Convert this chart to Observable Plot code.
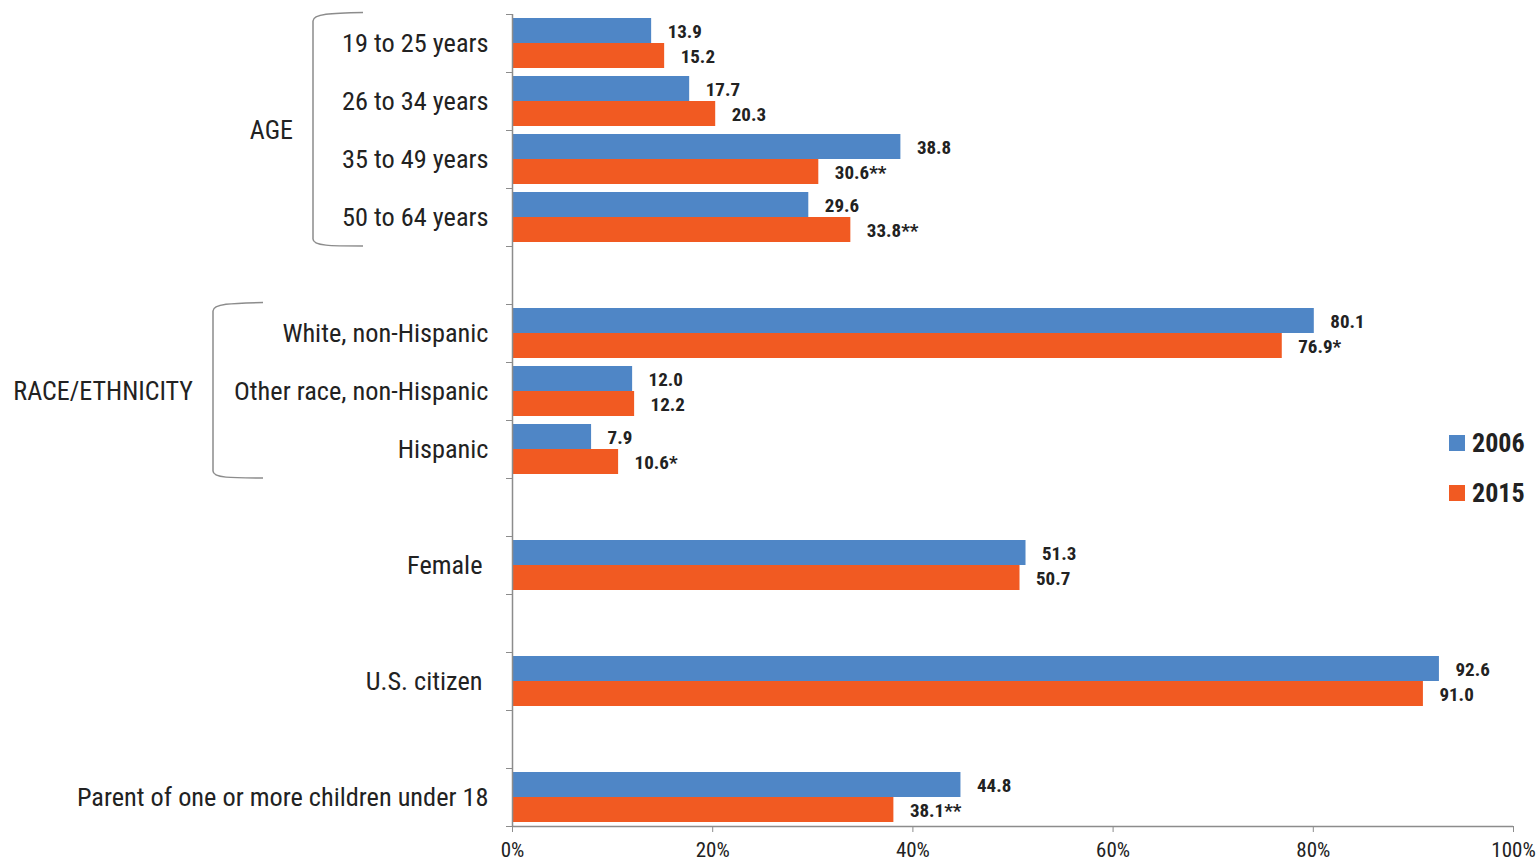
<!DOCTYPE html>
<html>
<head>
<meta charset="utf-8">
<script src="https://cdn.jsdelivr.net/npm/d3@7"></script>
<script src="https://cdn.jsdelivr.net/npm/@observablehq/plot@0.6"></script>
<style>
  body { margin: 0; background: #fff; }
  #chart { position: relative; width: 1536px; height: 862px; }
  #chart svg text { font-stretch: condensed; }
  .legend-item { position: absolute; left: 1449px; display: flex; align-items: center;
    font-family: "Roboto Condensed", Roboto, sans-serif; font-stretch: condensed;
    font-weight: bold; font-size: 26px; color: #222; height: 30px; line-height: 30px; }
  .legend-item .sw { width: 16px; height: 16px; margin-right: 7px; }
</style>
</head>
<body>
<div id="chart"></div>
<script>
// ---------- data ----------
const categories = [
  "19 to 25 years", "26 to 34 years", "35 to 49 years", "50 to 64 years", null,
  "White, non-Hispanic", "Other race, non-Hispanic", "Hispanic", null,
  "Female\u00a0", null,
  "U.S. citizen\u00a0", null,
  "Parent of one or more children under 18"
];
const values2006 = [13.9, 17.7, 38.8, 29.6, null, 80.1, 12.0, 7.9, null, 51.3, null, 92.6, null, 44.8];
const values2015 = [15.2, 20.3, 30.6, 33.8, null, 76.9, 12.2, 10.6, null, 50.7, null, 91.0, null, 38.1];
const notes2015  = ["", "", "**", "**", null, "*", "", "*", null, "", null, "", null, "**"];
const years = ["2006", "2015"];
const groupNames = ["AGE", "RACE/ETHNICITY"];
const groupFirst = [0, 5];
const groupLast  = [3, 7];
const xTicks = [0, 20, 40, 60, 80, 100];

// ---------- styling / layout ----------
const BLUE = "#4f86c6", ORANGE = "#f15a22", GRAY = "#8c8c8c", TEXT = "#222";
const FONT = '"Roboto Condensed", Roboto, sans-serif';
const bracketLeftOffset = [199, 299];   // px left of the 0% axis
const bracketWidth = 50;

const rows = categories
  .map((c, i) => ({c, i, v06: values2006[i], v15: values2015[i], note: notes2015[i]}))
  .filter(d => d.c !== null);

function brackets(index, scales, values, dims) {
  const g = d3.create("svg:g");
  const x0 = scales.x(0);
  groupNames.forEach((name, k) => {
    const yt = scales.y(groupFirst[k]), yb = scales.y(groupLast[k] + 1);
    const xl = x0 - bracketLeftOffset[k], xr = xl + bracketWidth;
    g.append("path")
      .attr("d", `M${xr},${yt - 1.5} C${xl + 18},${yt - 1} ${xl},${yt} ${xl},${yt + 7}
                  L${xl},${yb - 7} C${xl},${yb} ${xl + 18},${yb} ${xr},${yb}`)
      .attr("fill", "none").attr("stroke", GRAY).attr("stroke-width", 1.5);
    g.append("text")
      .attr("x", xl - 20).attr("y", (yt + yb) / 2).attr("dy", "0.35em")
      .attr("text-anchor", "end").attr("font-size", 26).attr("fill", TEXT)
      .attr("font-family", FONT)
      .text(name);
  });
  return g.node();
}

const plot = Plot.plot({
  width: 1536, height: 862,
  marginLeft: 512, marginRight: 23, marginTop: 14, marginBottom: 36,
  style: {fontFamily: FONT, fontSize: "21px", background: "transparent", overflow: "visible"},
  x: {domain: [0, 100]},
  y: {type: "linear", domain: [0, categories.length], reverse: true},
  marks: [
    Plot.rect(rows, {x1: 0, x2: "v06", y1: d => d.i, y2: d => d.i + 0.5, insetTop: 4, fill: BLUE}),
    Plot.rect(rows, {x1: 0, x2: "v15", y1: d => d.i + 0.5, y2: d => d.i + 1, insetBottom: 4, fill: ORANGE}),
    Plot.ruleX([0], {stroke: GRAY, strokeWidth: 1.5}),
    Plot.ruleY([categories.length], {stroke: GRAY, strokeWidth: 1.5}),
    Plot.axisX({ticks: xTicks, tickFormat: d => d + "%", tickSize: 6, tickPadding: 10,
      stroke: GRAY, fill: TEXT, fontSize: 21, label: null}),
    Plot.axisY({ticks: d3.range(categories.length + 1), tickFormat: () => "", tickSize: 6,
      stroke: GRAY, label: null}),
    Plot.text(rows, {x: "v06", y: d => d.i + 0.25, dy: 3, dx: 16, text: d => d.v06.toFixed(1),
      textAnchor: "start", fontSize: 19, fontWeight: "bold", fill: TEXT}),
    Plot.text(rows, {x: "v15", y: d => d.i + 0.75, dy: -1, dx: 16, text: d => d.v15.toFixed(1) + d.note,
      textAnchor: "start", fontSize: 19, fontWeight: "bold", fill: TEXT}),
    Plot.text(rows, {x: 0, y: d => d.i + 0.5, dx: -24, text: "c", textAnchor: "end",
      fontSize: 26.3, fill: TEXT}),
    brackets
  ]
});

const chart = document.getElementById("chart");
chart.appendChild(plot);
const colors = [BLUE, ORANGE];
years.forEach((yr, k) => {
  const item = document.createElement("div");
  item.className = "legend-item";
  item.style.top = (428 + k * 50) + "px";
  const sw = document.createElement("div");
  sw.className = "sw"; sw.style.background = colors[k];
  const t = document.createElement("span");
  t.textContent = yr;
  item.appendChild(sw); item.appendChild(t);
  chart.appendChild(item);
});
</script>
</body>
</html>
